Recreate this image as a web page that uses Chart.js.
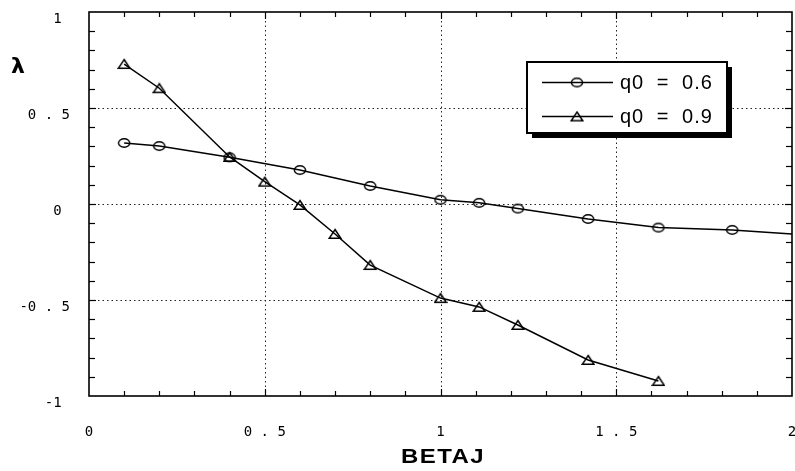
<!DOCTYPE html>
<html>
<head>
<meta charset="utf-8">
<script src="https://cdn.jsdelivr.net/npm/chart.js@4.4.1/dist/chart.umd.min.js"></script>
<style>
  html, body { margin: 0; padding: 0; background: #fff; overflow: hidden; }
  #wrap { width: 795px; height: 471px; position: relative; overflow: hidden; }
  #c { position: absolute; left: 0; top: 0; }
</style>
</head>
<body>
<div id="wrap"><canvas id="c" width="803" height="471"></canvas></div>
<script>
// Series: eigenvalue lambda versus BETAJ for two q0 settings
const seriesNames = ['q0 = 0.6', 'q0 = 0.9'];
const betaQ06   = [0.1, 0.2, 0.4, 0.6, 0.8, 1.0, 1.11, 1.22, 1.42, 1.62, 1.83, 2.0];
const lambdaQ06 = [0.318, 0.302, 0.243, 0.177, 0.094, 0.022, 0.006, -0.024, -0.078, -0.123, -0.135, -0.156];
const betaQ09   = [0.1, 0.2, 0.4, 0.5, 0.6, 0.7, 0.8, 1.0, 1.11, 1.22, 1.42, 1.62];
const lambdaQ09 = [0.729, 0.603, 0.245, 0.116, -0.005, -0.156, -0.318, -0.49, -0.536, -0.63, -0.8125, -0.922];

// Axis ticks and their printed labels
const xTicks = [0, 0.5, 1, 1.5, 2];
const xTickLabels = ['0', '0 . 5', '1', '1 . 5', '2'];
const yTicks = [1, 0.5, 0, -0.5, -1];
const yTickLabels = ['1 ', '0 . 5', '0 ', '-0 . 5', '-1 '];
const xTitle = 'BETAJ';
const yTitle = 'λ';

// Hollow marker images: flattened circle and triangle
function makeEllipse() {
  const cv = document.createElement('canvas');
  cv.width = 14; cv.height = 12;
  const g = cv.getContext('2d');
  g.lineWidth = 1.4; g.strokeStyle = '#000';
  g.beginPath(); g.ellipse(7, 6, 5.6, 4.3, 0, 0, Math.PI * 2); g.stroke();
  return cv;
}
function makeTriangle() {
  const cv = document.createElement('canvas');
  cv.width = 14; cv.height = 12;
  const g = cv.getContext('2d');
  g.lineWidth = 1.5; g.strokeStyle = '#000'; g.lineJoin = 'miter';
  g.beginPath(); g.moveTo(7, 1.5); g.lineTo(12.8, 10.3); g.lineTo(1.2, 10.3); g.closePath(); g.stroke();
  return cv;
}
const ellipseMark = makeEllipse();
const triangleMark = makeTriangle();

const toPoints = (xs, ys) => xs.map((x, i) => ({ x, y: ys[i] }));

// Frame, dotted grid, inward minor ticks, legend box and axis titles
const decorations = {
  id: 'decorations',
  beforeDatasetsDraw(chart) {
    const { ctx, chartArea: a, scales } = chart;
    const xs = scales.x, ys = scales.y;
    ctx.save();
    // dotted grid at the inner major ticks
    ctx.strokeStyle = '#222';
    ctx.lineWidth = 1;
    ctx.setLineDash([1.5, 3]);
    xTicks.slice(1, -1).forEach(v => {
      const px = Math.round(xs.getPixelForValue(v)) + 0.5;
      ctx.beginPath(); ctx.moveTo(px, a.top); ctx.lineTo(px, a.bottom); ctx.stroke();
    });
    yTicks.slice(1, -1).forEach(v => {
      const py = Math.round(ys.getPixelForValue(v)) + 0.5;
      ctx.beginPath(); ctx.moveTo(a.left, py); ctx.lineTo(a.right, py); ctx.stroke();
    });
    ctx.setLineDash([]);
    // inward minor ticks every 0.1
    ctx.strokeStyle = '#000';
    ctx.lineWidth = 1.2;
    for (let i = 1; i < 20; i++) {
      const px = Math.round(xs.getPixelForValue(i / 10)) + 0.5;
      const len = (i % 5 === 0) ? 7 : 5;
      ctx.beginPath(); ctx.moveTo(px, a.top); ctx.lineTo(px, a.top + len); ctx.stroke();
      ctx.beginPath(); ctx.moveTo(px, a.bottom); ctx.lineTo(px, a.bottom - len); ctx.stroke();
    }
    for (let i = -9; i < 10; i++) {
      const py = Math.round(ys.getPixelForValue(i / 10)) + 0.5;
      const len = (i % 5 === 0) ? 7 : 6;
      ctx.beginPath(); ctx.moveTo(a.left, py); ctx.lineTo(a.left + len, py); ctx.stroke();
      ctx.beginPath(); ctx.moveTo(a.right, py); ctx.lineTo(a.right - len, py); ctx.stroke();
    }
    // plot frame
    ctx.lineWidth = 1.6;
    ctx.strokeRect(a.left, a.top, a.right - a.left, a.bottom - a.top);
    ctx.restore();
  },
  afterDatasetsDraw(chart) {
    const { ctx } = chart;
    ctx.save();
    // legend box with drop shadow
    const bx = 527, by = 62, bw = 200, bh = 71;
    ctx.fillStyle = '#000';
    ctx.fillRect(bx + 5, by + 5, bw, bh);
    ctx.fillStyle = '#fff';
    ctx.fillRect(bx, by, bw, bh);
    ctx.strokeStyle = '#000';
    ctx.lineWidth = 2;
    ctx.strokeRect(bx, by, bw, bh);
    const rows = [82, 116];
    const marks = [ellipseMark, triangleMark];
    chart.data.datasets.forEach((ds, i) => {
      const ry = rows[i];
      ctx.lineWidth = 1.5;
      ctx.beginPath(); ctx.moveTo(542, ry + 0.5); ctx.lineTo(613, ry + 0.5); ctx.stroke();
      const m = marks[i];
      ctx.drawImage(m, 577 - m.width / 2, ry - m.height / 2 + 0.5);
      ctx.fillStyle = '#000';
      ctx.font = '20px "Liberation Sans", Arial, sans-serif';
      ctx.letterSpacing = '1px';
      ctx.wordSpacing = '6px';
      ctx.textAlign = 'left';
      ctx.textBaseline = 'middle';
      ctx.fillText(ds.label, 620, ry + 1);
    });
    ctx.letterSpacing = '0px';
    ctx.wordSpacing = '0px';
    // x-axis title, slightly widened
    ctx.save();
    ctx.translate(443, 457);
    ctx.scale(1.2, 1);
    ctx.letterSpacing = '1.2px';
    ctx.font = 'bold 20px "Liberation Sans", Arial, sans-serif';
    ctx.textAlign = 'center';
    ctx.textBaseline = 'middle';
    ctx.fillText(xTitle, 0, 0);
    ctx.restore();
    // y-axis symbol
    ctx.font = 'bold 22px "DejaVu Sans", sans-serif';
    ctx.textAlign = 'center';
    ctx.textBaseline = 'middle';
    ctx.fillText(yTitle, 18, 67);
    ctx.restore();
  }
};

const tickFont = { family: '"DejaVu Sans Mono", monospace', size: 14 };

new Chart(document.getElementById('c'), {
  type: 'line',
  data: {
    datasets: [
      {
        label: seriesNames[0],
        data: toPoints(betaQ06, lambdaQ06),
        borderColor: '#000',
        borderWidth: 1.5,
        pointStyle: ellipseMark,
        pointRadius: ctx => (ctx.dataIndex === betaQ06.length - 1 ? 0 : 6),
        tension: 0
      },
      {
        label: seriesNames[1],
        data: toPoints(betaQ09, lambdaQ09),
        borderColor: '#000',
        borderWidth: 1.5,
        pointStyle: triangleMark,
        pointRadius: 6,
        tension: 0
      }
    ]
  },
  options: {
    responsive: false,
    animation: false,
    events: [],
    layout: { padding: { top: 12, right: 11, bottom: 0, left: 0 } },
    plugins: { legend: { display: false }, tooltip: { enabled: false } },
    scales: {
      x: {
        type: 'linear',
        min: 0, max: 2,
        grid: { display: false, drawTicks: false },
        border: { display: false },
        ticks: {
          stepSize: 0.5,
          autoSkip: false,
          maxRotation: 0,
          padding: 28,
          color: '#000',
          font: tickFont,
          callback: v => { const i = xTicks.indexOf(v); return i >= 0 ? xTickLabels[i] : ''; }
        },
        afterFit: s => { s.height = 75; s.paddingLeft = 0; s.paddingRight = 0; }
      },
      y: {
        type: 'linear',
        min: -1, max: 1,
        grid: { display: false, drawTicks: false },
        border: { display: false },
        ticks: {
          stepSize: 0.5,
          autoSkip: false,
          padding: 19,
          labelOffset: 7,
          color: '#000',
          font: tickFont,
          callback: v => { const i = yTicks.indexOf(v); return i >= 0 ? yTickLabels[i] : ''; }
        },
        afterFit: s => { s.width = 89; s.paddingTop = 0; s.paddingBottom = 0; }
      }
    }
  },
  plugins: [decorations]
});
</script>
</body>
</html>
